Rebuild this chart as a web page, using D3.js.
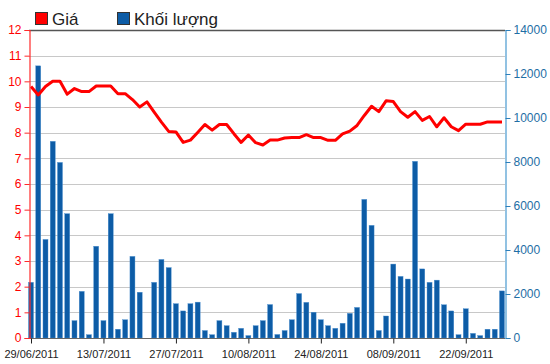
<html>
<head>
    <meta charset="utf-8">
    <script src="https://cdn.jsdelivr.net/npm/d3@7"></script>
    <style>
        body { margin: 0; background: #fff; }
        svg { font-family: "Liberation Sans", Arial, sans-serif; }
    </style>
</head>
<body>
<div id="chart"></div>
<script>
    // trading days, 29/06/2011 .. 29/09/2011
    var dates = ["29/06/2011","30/06/2011","01/07/2011","04/07/2011","05/07/2011","06/07/2011","07/07/2011","08/07/2011","11/07/2011","12/07/2011",
        "13/07/2011","14/07/2011","15/07/2011","18/07/2011","19/07/2011","20/07/2011","21/07/2011","22/07/2011","25/07/2011","26/07/2011",
        "27/07/2011","28/07/2011","29/07/2011","01/08/2011","02/08/2011","03/08/2011","04/08/2011","05/08/2011","08/08/2011","09/08/2011",
        "10/08/2011","11/08/2011","12/08/2011","15/08/2011","16/08/2011","17/08/2011","18/08/2011","19/08/2011","22/08/2011","23/08/2011",
        "24/08/2011","25/08/2011","26/08/2011","29/08/2011","30/08/2011","31/08/2011","01/09/2011","05/09/2011","06/09/2011","07/09/2011",
        "08/09/2011","09/09/2011","12/09/2011","13/09/2011","14/09/2011","15/09/2011","16/09/2011","19/09/2011","20/09/2011","21/09/2011",
        "22/09/2011","23/09/2011","26/09/2011","27/09/2011","28/09/2011","29/09/2011"];

    var price = [9.8, 9.47, 9.8, 10.0, 10.0, 9.5, 9.72, 9.6, 9.6, 9.82,
        9.82, 9.82, 9.52, 9.52, 9.29, 9.0, 9.2, 8.8, 8.41, 8.05,
        8.03, 7.62, 7.71, 8.01, 8.32, 8.1, 8.32, 8.32, 7.96, 7.62,
        7.91, 7.61, 7.52, 7.71, 7.71, 7.79, 7.81, 7.81, 7.92, 7.81,
        7.81, 7.7, 7.7, 7.95, 8.06, 8.28, 8.67, 9.03, 8.82, 9.24,
        9.21, 8.82, 8.6, 8.82, 8.48, 8.63, 8.23, 8.58, 8.23, 8.08,
        8.33, 8.33, 8.33, 8.42, 8.42, 8.42];

    var volume = [2530, 12370, 4480, 8940, 7980, 5650, 790, 2120, 150, 4170,
        790, 5650, 400, 830, 3710, 2080, 0, 2530, 3570, 3200,
        1560, 1230, 1560, 1630, 340, 150, 790, 560, 260, 440,
        110, 560, 790, 1520, 160, 340, 830, 2020, 1620, 1170,
        830, 560, 440, 670, 1120, 1390, 6300, 5120, 340, 1000,
        3360, 2800, 2680, 8030, 3140, 2530, 2630, 1510, 1230, 150,
        1330, 210, 110, 400, 400, 2140];

    var priceTicks = [0, 1, 2, 3, 4, 5, 6, 7, 8, 9, 10, 11, 12];
    var volumeTicks = [0, 2000, 4000, 6000, 8000, 10000, 12000, 14000];
    var legendLabels = ["Giá", "Khối lượng"];

    var width = 550, height = 364;
    var plotLeft = 29, plotRight = 505, plotTop = 30, plotBottom = 338;

    var svg = d3.select("#chart").append("svg")
        .attr("width", width)
        .attr("height", height);

    var x = d3.scalePoint().domain(dates).range([31, 502]);
    var yPrice = d3.scaleLinear().domain([0, 12]).range([plotBottom, plotTop]);
    var yVol = d3.scaleLinear().domain([0, 14000]).range([plotBottom, plotTop]);

    // grid
    svg.append("g").selectAll("line")
        .data(priceTicks.slice(1, -1))
        .enter().append("line")
        .attr("x1", plotLeft).attr("x2", plotRight)
        .attr("y1", function(d) { return Math.round(yPrice(d)) + 0.5; })
        .attr("y2", function(d) { return Math.round(yPrice(d)) + 0.5; })
        .attr("stroke", "#c8c8c8").attr("stroke-width", 1);

    svg.append("line")
        .attr("x1", plotLeft).attr("x2", plotRight).attr("y1", plotTop + 0.5).attr("y2", plotTop + 0.5)
        .attr("stroke", "#555").attr("stroke-width", 1.5);

    // volume bars
    svg.append("g").selectAll("rect")
        .data(volume)
        .enter().append("rect")
        .attr("x", function(d, i) { return x(dates[i]) - 2.5; })
        .attr("y", function(d) { return yVol(d); })
        .attr("width", 5)
        .attr("height", function(d) { return plotBottom - yVol(d); })
        .attr("fill", "#0d5ca6")
        .attr("stroke", "#4a8fcf")
        .attr("stroke-width", 0.4);

    // price line
    var line = d3.line()
        .x(function(d, i) { return x(dates[i]); })
        .y(function(d) { return yPrice(d); });

    svg.append("path")
        .datum(price)
        .attr("d", line)
        .attr("fill", "none")
        .attr("stroke", "#ff0000")
        .attr("stroke-width", 3)
        .attr("stroke-linejoin", "round");

    // bottom axis
    svg.append("line")
        .attr("x1", plotLeft).attr("x2", plotRight).attr("y1", plotBottom + 0.5).attr("y2", plotBottom + 0.5)
        .attr("stroke", "#666");

    var xAxis = svg.append("g")
        .attr("transform", "translate(0," + (plotBottom + 0.5) + ")")
        .call(d3.axisBottom(x)
            .tickValues(dates.filter(function(d, i) { return i % 10 === 0; }))
            .tickSize(5).tickPadding(7));
    xAxis.select(".domain").remove();
    xAxis.selectAll(".tick line").attr("stroke", "#222");
    xAxis.selectAll("text").attr("font-size", 11).attr("fill", "#222")
        .attr("font-family", "Liberation Sans, Arial, sans-serif");

    // left axis (price)
    var yAxisL = svg.append("g")
        .attr("transform", "translate(" + (plotLeft + 0.5) + ",0)")
        .call(d3.axisLeft(yPrice).tickValues(priceTicks).tickSize(5).tickPadding(3));
    yAxisL.select(".domain").attr("stroke", "#ff2a2a").attr("stroke-width", 1.2);
    yAxisL.selectAll(".tick line").attr("stroke", "#ff2a2a");
    yAxisL.selectAll("text").attr("font-size", 12).attr("fill", "#f00")
        .attr("font-family", "Liberation Sans, Arial, sans-serif");

    // right axis (volume)
    var yAxisR = svg.append("g")
        .attr("transform", "translate(" + (plotRight + 0.5) + ",0)")
        .call(d3.axisRight(yVol).tickValues(volumeTicks).tickFormat(d3.format("d"))
            .tickSize(5).tickPadding(3));
    yAxisR.select(".domain").attr("stroke", "#4a9ad0").attr("stroke-width", 1.2);
    yAxisR.selectAll(".tick line").attr("stroke", "#2d7fba");
    yAxisR.selectAll("text").attr("font-size", 12).attr("fill", "#1e6ea5")
        .attr("font-family", "Liberation Sans, Arial, sans-serif");

    // legend
    var legendColors = ["#ff0000", "#0d5ca6"];
    var legendX = [35, 117];
    var legend = svg.append("g").selectAll("g")
        .data(legendLabels)
        .enter().append("g")
        .attr("transform", function(d, i) { return "translate(" + legendX[i] + ",12)"; });
    legend.append("rect")
        .attr("x", 0.5).attr("y", 0.5)
        .attr("width", 12).attr("height", 12)
        .attr("fill", function(d, i) { return legendColors[i]; })
        .attr("stroke", "#333");
    legend.append("text")
        .attr("x", 17).attr("y", 12.5)
        .attr("font-size", 17)
        .attr("fill", "#222")
        .text(function(d) { return d; });
</script>
</body>
</html>
